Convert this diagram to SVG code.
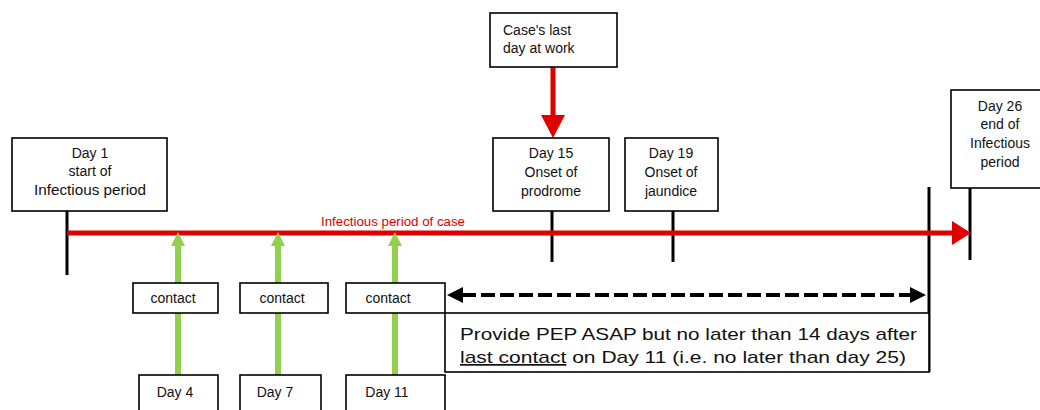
<svg xmlns="http://www.w3.org/2000/svg" width="1040" height="410" viewBox="0 0 1040 410">
<style>
.box{fill:#fff;stroke:#000;stroke-width:1.6}
.t{font-family:"Liberation Sans",Arial,sans-serif;font-size:14px;fill:#111;text-anchor:middle}
.tl{font-family:"Liberation Sans",Arial,sans-serif;font-size:14px;fill:#111}
.pep{font-family:"Liberation Sans",Arial,sans-serif;font-size:17px;fill:#111}
.red{font-family:"Liberation Sans",Arial,sans-serif;font-size:12px;fill:#e00000}
.blk{stroke:#000;stroke-width:3;fill:none}
.grn{stroke:#92d050;stroke-width:6;fill:none}
.rd{stroke:#e00000;stroke-width:5;fill:none}
</style>
<rect width="1040" height="410" fill="#fff"/>
<g id="connectors">
  <line class="blk" x1="67" y1="211" x2="67" y2="275"/>
  <line class="blk" x1="552" y1="211" x2="552" y2="262"/>
  <line class="blk" x1="673" y1="211" x2="673" y2="262"/>
  <line class="blk" x1="970" y1="188" x2="970" y2="260"/>
  <line class="blk" x1="929" y1="187" x2="929" y2="372"/>
  <line class="rd" x1="67" y1="233" x2="956" y2="233"/>
  <polygon points="952,221 971,233 952,245" fill="#e00000"/>
  <line class="rd" x1="553" y1="67" x2="553" y2="118"/>
  <polygon points="541,115 565,115 553,138" fill="#e00000"/>
  <g id="green-arrows">
    <line class="grn" x1="178" y1="243" x2="178" y2="283"/>
    <polygon points="171,246 185,246 178,232" fill="#92d050"/>
    <line class="grn" x1="178" y1="313" x2="178" y2="375"/>
    <line class="grn" x1="278" y1="243" x2="278" y2="283"/>
    <polygon points="271,246 285,246 278,232" fill="#92d050"/>
    <line class="grn" x1="278" y1="313" x2="278" y2="375"/>
    <line class="grn" x1="395" y1="243" x2="395" y2="283"/>
    <polygon points="388,246 402,246 395,232" fill="#92d050"/>
    <line class="grn" x1="395" y1="313" x2="395" y2="375"/>
  </g>
  <line x1="462" y1="295" x2="912" y2="295" stroke="#000" stroke-width="4" stroke-dasharray="14 5"/>
  <polygon points="447,295 463,287 463,303" fill="#000"/>
  <polygon points="926,295 910,287 910,303" fill="#000"/>
</g>
<text class="red" x="321" y="226" textLength="144" lengthAdjust="spacingAndGlyphs">Infectious period of case</text>
<g id="day1">
  <rect class="box" x="12" y="138" width="155" height="73"/>
  <text class="t" x="90" y="158">Day 1</text>
  <text class="t" x="90" y="176">start of</text>
  <text class="t" x="90" y="195" textLength="112" lengthAdjust="spacingAndGlyphs">Infectious period</text>
</g>
<g id="lastday">
  <rect class="box" x="490" y="13" width="127" height="54"/>
  <text class="tl" x="503" y="35">Case's last</text>
  <text class="tl" x="503" y="53">day at work</text>
</g>
<g id="day15">
  <rect class="box" x="493" y="138" width="116" height="73"/>
  <text class="t" x="551" y="158">Day 15</text>
  <text class="t" x="551" y="177">Onset of</text>
  <text class="t" x="551" y="196">prodrome</text>
</g>
<g id="day19">
  <rect class="box" x="625" y="138" width="93" height="73"/>
  <text class="t" x="671" y="158">Day 19</text>
  <text class="t" x="671" y="177">Onset of</text>
  <text class="t" x="671" y="196">jaundice</text>
</g>
<g id="day26">
  <rect class="box" x="951" y="90" width="100" height="98"/>
  <text class="t" x="1000" y="111">Day 26</text>
  <text class="t" x="1000" y="129">end of</text>
  <text class="t" x="1000" y="148">Infectious</text>
  <text class="t" x="1000" y="167">period</text>
</g>
<g id="contact1">
  <rect class="box" x="133" y="283" width="85" height="30"/>
  <text class="t" x="173" y="303">contact</text>
</g>
<g id="contact2">
  <rect class="box" x="240" y="283" width="88" height="30"/>
  <text class="t" x="282" y="303">contact</text>
</g>
<g id="contact3">
  <rect class="box" x="346" y="283" width="99" height="30"/>
  <text class="t" x="388" y="303">contact</text>
</g>
<g id="day4">
  <rect class="box" x="139" y="375" width="79" height="45"/>
  <text class="t" x="175" y="397">Day 4</text>
</g>
<g id="day7">
  <rect class="box" x="240" y="375" width="81" height="45"/>
  <text class="t" x="275" y="397">Day 7</text>
</g>
<g id="day11">
  <rect class="box" x="346" y="375" width="99" height="45"/>
  <text class="t" x="387" y="397">Day 11</text>
</g>
<g id="pep">
  <rect class="box" x="445" y="313" width="484" height="59"/>
  <text class="pep" x="460" y="340" textLength="457" lengthAdjust="spacingAndGlyphs">Provide PEP ASAP but no later than 14 days after</text>
  <text class="pep" x="460" y="363" textLength="446" lengthAdjust="spacingAndGlyphs"><tspan text-decoration="underline">last contact</tspan> on Day 11 (i.e. no later than day 25)</text>
</g>
</svg>
